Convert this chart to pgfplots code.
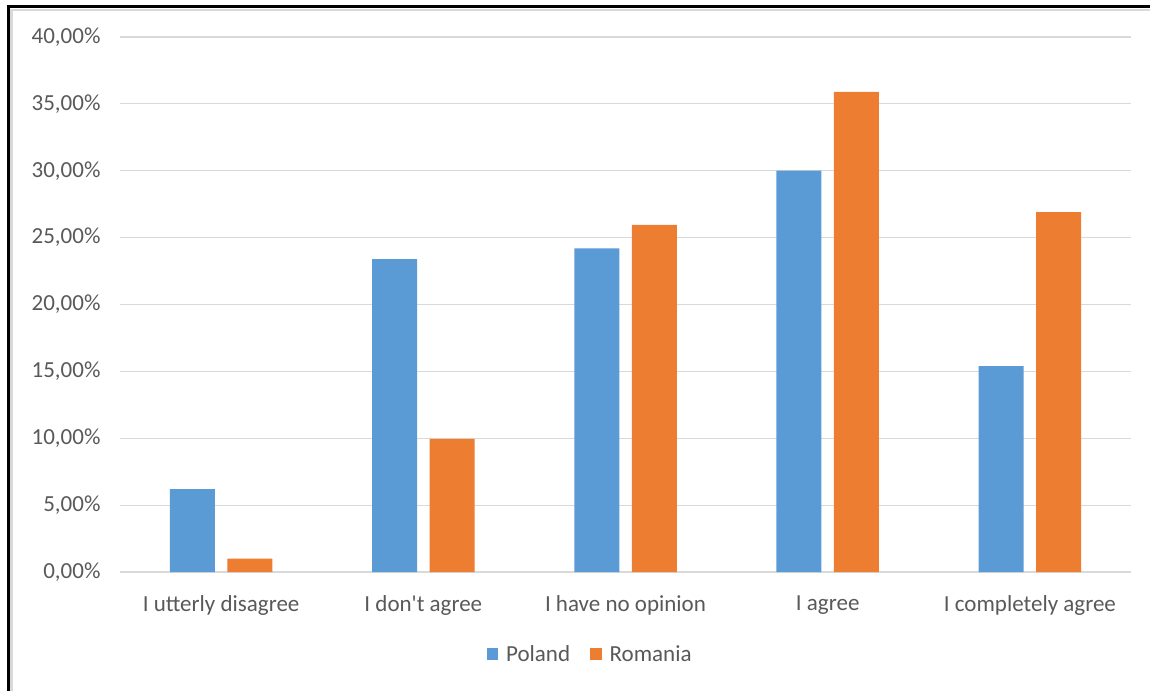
\documentclass[border=0pt]{standalone}
\usepackage{pgfplots}
\pgfplotsset{compat=1.18}
\usepackage{fontspec}
\setmainfont{Carlito}
\definecolor{cblue}{HTML}{5B9BD5}
\definecolor{corange}{HTML}{ED7D31}
\definecolor{cgrid}{HTML}{D9D9D9}
\definecolor{ctext}{HTML}{595959}
\begin{document}
\begin{tikzpicture}
\useasboundingbox (-120bp,-119bp) rectangle (1030bp,572bp);
\draw[cgrid, line width=2.5bp] (-108.5bp,-119bp) -- (-108.5bp,562bp) -- (1030bp,562bp);
\draw[black, line width=3bp] (-111.5bp,-119bp) -- (-111.5bp,565bp) -- (1030bp,565bp);
\begin{axis}[
  at={(0,0)}, anchor=south west,
  scale only axis,
  width=1011bp, height=535bp,
  ybar=12.5bp, bar width=45bp,
  xmin=-0.5, xmax=4.5,
  ymin=0, ymax=40,
  xtick=data,
  xticklabels={I utterly disagree, I don\textquotesingle t agree, I have no opinion, I agree, I completely agree},
  ytick={0,5,10,15,20,25,30,35,40},
  yticklabels={{0,00\%},{5,00\%},{10,00\%},{15,00\%},{20,00\%},{25,00\%},{30,00\%},{35,00\%},{40,00\%}},
  ymajorgrids,
  grid style={cgrid, line width=1.2bp},
  axis line style={draw=none},
  major tick length=0pt,
  tick label style={font=\fontsize{23bp}{27bp}\selectfont, text=ctext},
  xticklabel style={yshift=-20bp},
  yticklabel style={xshift=-16bp},
  legend style={draw=none, at={(rel axis cs:0.465,0)}, anchor=center, yshift=-82bp,
    legend columns=2, font=\fontsize{23bp}{27bp}\selectfont, text=ctext,
    /tikz/every odd column/.append style={column sep=6bp},
    /tikz/every even column/.append style={column sep=18bp}},
  legend image code/.code={\fill[#1] (0bp,-5.5bp) rectangle (11.5bp,6bp);},
]
\addplot[fill=cblue, draw=none] coordinates {(0,6.2) (1,23.4) (2,24.2) (3,30.0) (4,15.4)};
\addplot[fill=corange, draw=none] coordinates {(0,1.0) (1,9.95) (2,25.95) (3,35.9) (4,26.9)};
\legend{Poland, Romania}
\end{axis}
\end{tikzpicture}
\end{document}
